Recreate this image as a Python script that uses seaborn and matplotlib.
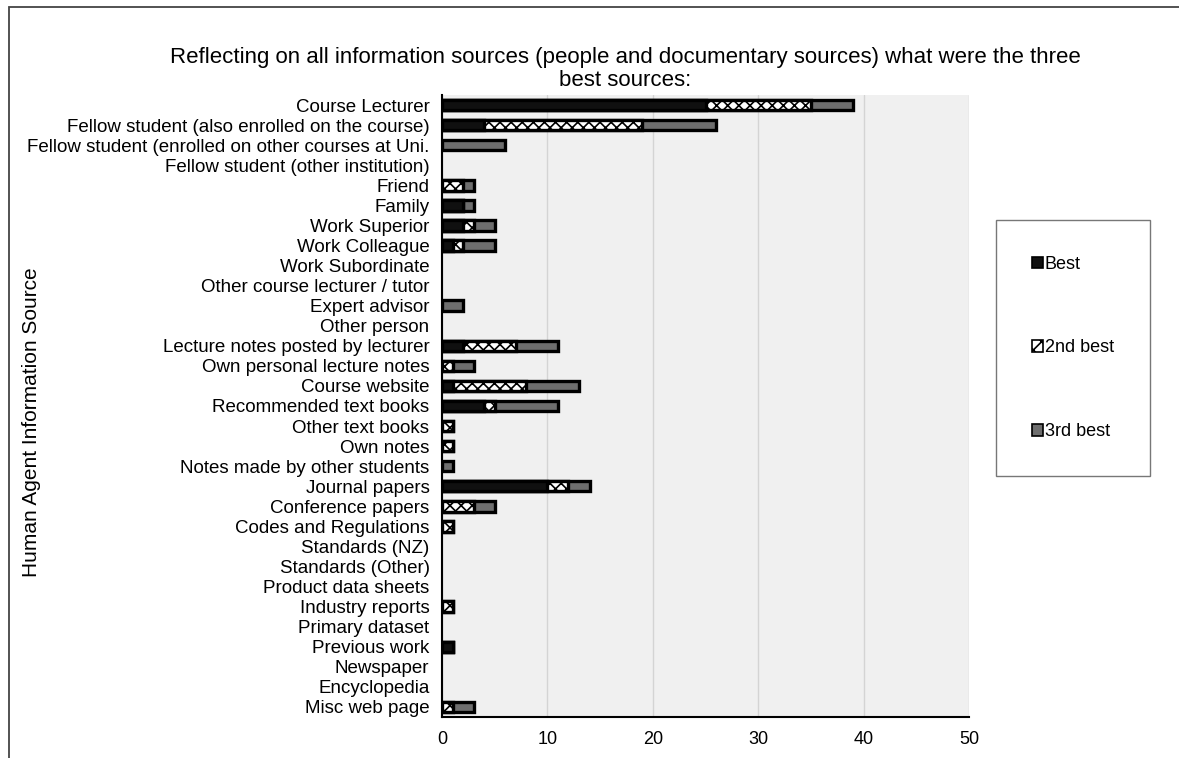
import matplotlib
matplotlib.use("Agg")
import matplotlib.pyplot as plt
from matplotlib.patches import Patch, Rectangle
import seaborn as sns
import pandas as pd

sources = [
    "Course Lecturer",
    "Fellow student (also enrolled on the course)",
    "Fellow student (enrolled on other courses at Uni.",
    "Fellow student (other institution)",
    "Friend",
    "Family",
    "Work Superior",
    "Work Colleague",
    "Work Subordinate",
    "Other course lecturer / tutor",
    "Expert advisor",
    "Other person",
    "Lecture notes posted by lecturer",
    "Own personal lecture notes",
    "Course website",
    "Recommended text books",
    "Other text books",
    "Own notes",
    "Notes made by other students",
    "Journal papers",
    "Conference papers",
    "Codes and Regulations",
    "Standards (NZ)",
    "Standards (Other)",
    "Product data sheets",
    "Industry reports",
    "Primary dataset",
    "Previous work",
    "Newspaper",
    "Encyclopedia",
    "Misc web page",
]

best = [25, 4, 0, 0, 0, 2, 2, 1, 0, 0, 0, 0, 2, 0, 1, 4, 0, 0, 0, 10, 0, 0, 0, 0, 0, 0, 0, 1, 0, 0, 0]
second = [10, 15, 0, 0, 2, 0, 1, 1, 0, 0, 0, 0, 5, 1, 7, 1, 1, 1, 0, 2, 3, 1, 0, 0, 0, 1, 0, 0, 0, 0, 1]
third = [4, 7, 6, 0, 1, 1, 2, 3, 0, 0, 2, 0, 4, 2, 5, 6, 0, 0, 1, 2, 2, 0, 0, 0, 0, 0, 0, 0, 0, 0, 2]

series_names = ["Best", "2nd best", "3rd best"]
x_ticks = [0, 10, 20, 30, 40, 50]
title_lines = [
    "Reflecting on all information sources (people and documentary sources) what were the three",
    "best sources:",
]
y_title = "Human Agent Information Source"

df = pd.DataFrame({"source": sources, "best": best, "second": second, "third": third})
df["cum2"] = df["best"] + df["second"]
df["cum3"] = df["cum2"] + df["third"]

sns.set_theme(style="white")
plt.rcParams["font.family"] = ["Liberation Sans", "DejaVu Sans"]
plt.rcParams["text.color"] = "black"
plt.rcParams["xtick.color"] = "black"
plt.rcParams["ytick.color"] = "black"
plt.rcParams["hatch.linewidth"] = 1.2

fig = plt.figure(figsize=(11.79, 7.58), dpi=100)
ax = fig.add_axes([442 / 1179, 1 - 717 / 758, 527 / 1179, 622 / 758])
ax.set_facecolor("#f0f0f0")

fill_best = "#101010"
fill_third = "#6e6e6e"
edge = "#000000"
bar_kw = dict(orient="h", width=0.52, edgecolor=edge, linewidth=2.4, ax=ax, errorbar=None)

# Stacked segments: draw cumulative totals back to front
sns.barplot(data=df, y="source", x="cum3", color=fill_third, saturation=1, **bar_kw)
n = len(ax.patches)
sns.barplot(data=df, y="source", x="cum2", color="white", saturation=1, **bar_kw)
for p in ax.patches[n:]:
    p.set_hatch("xxx")
sns.barplot(data=df, y="source", x="best", color=fill_best, saturation=1, **bar_kw)
for p in ax.patches:
    if p.get_width() == 0:
        p.set_visible(False)

ax.set_xlim(0, 50)
ax.set_xticks(x_ticks)
ax.set_xticklabels([str(t) for t in x_ticks], fontsize=13)
ax.set_ylim(len(sources) - 0.5, -0.5)
ax.tick_params(axis="y", length=0, pad=9, labelsize=13.5)
ax.tick_params(axis="x", length=0, pad=10)
ax.xaxis.grid(True, color="#d4d4d4", linewidth=1)
ax.yaxis.grid(False)
ax.set_axisbelow(True)
for side in ["top", "right"]:
    ax.spines[side].set_visible(False)
ax.spines["left"].set_color("black")
ax.spines["left"].set_linewidth(1.5)
ax.spines["bottom"].set_color("black")
ax.spines["bottom"].set_linewidth(1.5)
ax.set_xlabel("")
ax.set_ylabel("")

fig.text(32 / 1179, 1 - 422 / 758, y_title, rotation=90, ha="center", va="center", fontsize=15)
fig.text(625 / 1179, 1 - 57 / 758, title_lines[0], ha="center", va="center", fontsize=16)
fig.text(625 / 1179, 1 - 81 / 758, title_lines[1], ha="center", va="center", fontsize=16)

handles = [
    Patch(facecolor=fill_best, edgecolor=edge, linewidth=1.2),
    Patch(facecolor="white", edgecolor=edge, linewidth=1.2, hatch="xx"),
    Patch(facecolor=fill_third, edgecolor=edge, linewidth=1.2),
]
leg = fig.legend(
    handles, series_names,
    loc="center left", bbox_to_anchor=(996 / 1179, 1 - 348 / 758),
    fontsize=13, frameon=True, fancybox=False,
    handlelength=0.6, handleheight=0.6, handletextpad=0.1,
    labelspacing=3.7, borderpad=2.0, borderaxespad=0,
)
leg.get_frame().set_edgecolor("#555555")
leg.get_frame().set_linewidth(1.0)

# Outer chart frame
fig.add_artist(Rectangle((9.5 / 1179, -0.1), 1.2, 1.1 - 7.5 / 758,
                         transform=fig.transFigure, fill=False,
                         edgecolor="#444444", linewidth=1.3, clip_on=False))

fig.savefig("out.png", dpi=100)
